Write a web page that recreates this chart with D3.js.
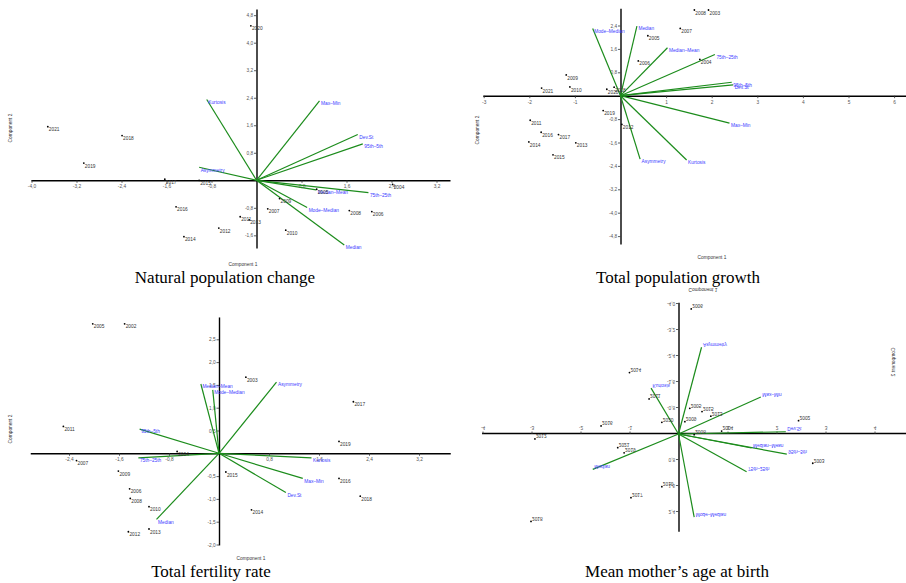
<!DOCTYPE html>
<html>
<head>
<meta charset="utf-8">
<script src="https://cdn.jsdelivr.net/npm/d3@7"></script>
<style>
body { margin: 0; background: #fff; }
</style>
</head>
<body>
<div id="chart"></div>
<script>

// ---- Natural population change ----
var natYears = ["2020","2021","2018","2019","2017","2015","2016","2014","2012","2011","2013","2007","2009","2010","2005","2008","2006","2004"];
var natPC1 = [-0.10,-3.71,-2.39,-3.07,-1.63,-1.02,-1.43,-1.29,-0.67,-0.29,-0.13,0.20,0.41,0.52,1.07,1.65,2.05,2.42];
var natPC2 = [4.49,1.56,1.30,0.50,0.03,0.00,-0.77,-1.64,-1.39,-1.06,-1.15,-0.83,-0.53,-1.45,-0.26,-0.88,-0.91,-0.12];
var natVars = ["Kurtosis","Asymmetry","Max–Min","Dev.St","95th–5th","75th–25th","Median–Mean","Mode–Median","Median"];
var natLoad1 = [-0.885,-1.02,1.12,1.80,1.89,1.99,1.06,0.90,1.56];
var natLoad2 = [2.35,0.38,2.31,1.33,1.06,-0.36,-0.28,-0.79,-1.88];

// ---- Total population growth ----
var tpgYears = ["2009","2021","2010","2020","2018","2019","2012","2011","2016","2017","2014","2013","2015","2005","2006","2007","2008","2003","2004"];
var tpgPC1 = [-1.19,-1.73,-1.11,-0.30,-0.14,-0.38,0.03,-1.98,-1.74,-1.36,-2.01,-0.98,-1.48,0.60,0.39,1.31,1.62,1.93,1.74];
var tpgPC2 = [0.71,0.26,0.30,0.22,0.29,-0.51,-0.98,-0.84,-1.25,-1.33,-1.58,-1.61,-2.02,2.05,1.19,2.30,2.93,2.93,1.24];
var tpgVars = ["Mode–Median","Median","Median–Mean","75th–25th","95th–5th","Dev.St","Max–Min","Kurtosis","Asymmetry"];
var tpgLoad1 = [-0.61,0.36,1.03,2.07,2.44,2.47,2.39,1.45,0.43];
var tpgLoad2 = [2.30,2.38,1.64,1.41,0.46,0.37,-0.94,-2.20,-2.17];

// ---- Total fertility rate ----
var tfrYears = ["2005","2002","2011","2007","2009","2006","2008","2010","2013","2012","2004","2015","2003","2017","2019","2016","2018","2014"];
var tfrPC1 = [-2.02,-1.51,-2.49,-2.28,-1.61,-1.43,-1.42,-1.12,-1.12,-1.45,-0.67,0.11,0.43,2.15,1.92,1.92,2.26,0.52];
var tfrPC2 = [2.84,2.84,0.59,-0.16,-0.39,-0.78,-0.99,-1.17,-1.66,-1.72,0.04,-0.41,1.67,1.13,0.26,-0.55,-0.94,-1.24];
var tfrVars = ["Median–Mean","Mode–Median","95th–5th","75th–25th","Median","Asymmetry","Kurtosis","Max–Min","Dev.St"];
var tfrLoad1 = [-0.29,-0.10,-1.27,-1.29,-1.00,0.92,1.48,1.34,1.07];
var tfrLoad2 = [1.52,1.39,0.53,-0.10,-1.45,1.56,-0.10,-0.55,-0.86];

// ---- Mean mother's age at birth (panel is printed upside down) ----
var mabYears = ["2006","2014","2011","2020","2016","2012","2021","2019","2010","2017","2018","2005","2015","2013","2009","2008","2004","2002","2003"];
var mabPC1 = [0.26,-1.00,-0.60,-0.34,-1.58,-2.93,-1.24,-1.11,-0.34,-0.97,-3.01,0.23,0.48,0.66,0.13,0.32,0.88,2.45,2.74];
var mabPC2 = [-3.85,-1.89,-1.08,-0.36,-0.25,0.15,0.42,0.58,1.62,1.96,2.69,-0.79,-0.69,-0.55,-0.38,0.02,-0.09,-0.41,0.90];
var mabVars = ["Asymmetry","Kurtosis","Median","Max–Min","Dev.St","Median–Mean","95th–5th","75th–25th","Mode–Median"];
var mabLoad1 = [0.47,-0.56,-1.75,1.68,2.19,1.49,2.21,1.39,0.32];
var mabLoad2 = [-2.67,-1.41,1.09,-1.14,-0.07,0.43,0.62,1.16,2.56];

var loc = d3.formatLocale({decimal: ",", thousands: ".", grouping: [3], currency: ["", ""], minus: "-"});
var f1 = loc.format(".1f"), f0 = loc.format("d");

var small = "'Liberation Sans', Arial, sans-serif";
var serif = "'Liberation Serif', 'Times New Roman', serif";

var svg = d3.select("#chart").append("svg")
    .attr("width", 906)
    .attr("height", 583)
    .style("background", "#fff");

function drawPanel(cfg) {
    var g = svg.append("g");
    if (cfg.flip) g.attr("transform", "translate(0," + (2 * cfg.y0) + ") scale(1,-1)");

    var x = d3.scaleLinear().domain(cfg.xdom)
        .range(cfg.xdom.map(function(v) { return cfg.x0 + v * cfg.kx; }));
    var y = d3.scaleLinear().domain(cfg.ydom)
        .range(cfg.ydom.map(function(v) { return cfg.y0 - v * cfg.ky; }));

    var gx = g.append("g")
        .attr("transform", "translate(0," + y(0) + ")")
        .call(d3.axisBottom(x).tickValues(cfg.xticks).tickFormat(cfg.xfmt)
            .tickSize(2.5).tickSizeOuter(0).tickPadding(2));
    var gy = g.append("g")
        .attr("transform", "translate(" + x(0) + ",0)")
        .call(d3.axisLeft(y).tickValues(cfg.yticks).tickFormat(cfg.yfmt)
            .tickSize(2.5).tickSizeOuter(0).tickPadding(0.8));

    [gx, gy].forEach(function(a) {
        a.attr("font-size", 4.8).attr("font-family", small);
        a.select(".domain").attr("stroke", "#000").attr("stroke-width", 1.4);
        a.selectAll(".tick line").attr("stroke", "#333").attr("stroke-width", 0.8);
        a.selectAll(".tick text").attr("fill", "#555");
    });

    // loading vectors
    var vecs = d3.zip(cfg.vars, cfg.load1, cfg.load2);
    g.selectAll(null).data(vecs).enter().append("line")
        .attr("x1", x(0)).attr("y1", y(0))
        .attr("x2", function(d) { return x(d[1]); })
        .attr("y2", function(d) { return y(d[2]); })
        .attr("stroke", "#1c8c1c")
        .attr("stroke-width", 1.2);
    g.selectAll(null).data(vecs).enter().append("text")
        .attr("x", function(d) { return x(d[1]) + 1.5; })
        .attr("y", function(d) { return y(d[2]) + 4.3; })
        .attr("font-size", 4.8)
        .attr("font-family", small)
        .attr("fill", "#3b3bff")
        .text(function(d) { return d[0]; });

    // scores
    var pts = d3.zip(cfg.years, cfg.pc1, cfg.pc2);
    g.selectAll(null).data(pts).enter().append("circle")
        .attr("cx", function(d) { return x(d[1]); })
        .attr("cy", function(d) { return y(d[2]); })
        .attr("r", 0.9)
        .attr("fill", "#000");
    g.selectAll(null).data(pts).enter().append("text")
        .attr("x", function(d) { return x(d[1]) + 1; })
        .attr("y", function(d) { return y(d[2]) + 4.6; })
        .attr("font-size", 4.8)
        .attr("font-family", small)
        .attr("fill", "#333")
        .text(function(d) { return d[0]; });

    // axis names
    g.append("text")
        .attr("x", cfg.c1[0]).attr("y", cfg.c1[1])
        .attr("text-anchor", "middle")
        .attr("font-size", 4.8).attr("font-family", small).attr("fill", "#333")
        .text("Component 1");
    g.append("text")
        .attr("transform", "translate(" + cfg.c2[0] + "," + cfg.c2[1] + ") rotate(-90)")
        .attr("text-anchor", "middle")
        .attr("font-size", 4.8).attr("font-family", small).attr("fill", "#333")
        .text("Component 2");

    svg.append("text")
        .attr("x", cfg.tx).attr("y", cfg.ty)
        .attr("text-anchor", "middle")
        .attr("font-size", 17).attr("font-family", serif).attr("fill", "#000")
        .text(cfg.title);
}

drawPanel({
    title: "Natural population change", tx: 225, ty: 283,
    x0: 256.5, y0: 180.3, kx: 56.25, ky: 34.4,
    xdom: [-4.01, 3.44], ydom: [-1.97, 4.98],
    xticks: [-4.0, -3.2, -2.4, -1.6, -0.8, 0.8, 1.6, 2.4, 3.2], xfmt: f1,
    yticks: [-1.6, -0.8, 0.8, 1.6, 2.4, 3.2, 4.0, 4.8], yfmt: f1,
    c1: [243, 265.5], c2: [11.7, 128],
    years: natYears, pc1: natPC1, pc2: natPC2,
    vars: natVars, load1: natLoad1, load2: natLoad2
});

drawPanel({
    title: "Total population growth", tx: 678, ty: 283,
    x0: 620.5, y0: 95.7, kx: 45.6, ky: 29.25,
    xdom: [-3.02, 6.25], ydom: [-5.07, 2.99],
    xticks: [-3, -2, -1, 1, 2, 3, 4, 5, 6], xfmt: f0,
    yticks: [-4.8, -4.0, -3.2, -2.4, -1.6, -0.8, 0.8, 1.6, 2.4], yfmt: f1,
    c1: [712, 258.5], c2: [478.7, 130],
    years: tpgYears, pc1: tpgPC1, pc2: tpgPC2,
    vars: tpgVars, load1: tpgLoad1, load2: tpgLoad2
});

drawPanel({
    title: "Total fertility rate", tx: 211, ty: 577,
    x0: 219, y0: 453.3, kx: 62.5, ky: 45.6,
    xdom: [-3.02, 3.7], ydom: [-2.01, 2.99],
    xticks: [-2.4, -1.6, -0.8, 0.8, 1.6, 2.4, 3.2], xfmt: f1,
    yticks: [-2.0, -1.5, -1.0, -0.5, 0.5, 1.0, 1.5, 2.0, 2.5], yfmt: f1,
    c1: [251, 560], c2: [11.7, 429],
    years: tfrYears, pc1: tfrPC1, pc2: tfrPC2,
    vars: tfrVars, load1: tfrLoad1, load2: tfrLoad2
});

drawPanel({
    title: "Mean mother’s age at birth", tx: 677, ty: 577,
    flip: true,
    x0: 678.5, y0: 434, kx: 49, ky: 32.5,
    xdom: [-4.02, 4.64], ydom: [-4.02, 3.02],
    xticks: [-4, -3, -2, -1, 1, 2, 3, 4], xfmt: f0,
    yticks: [-4.0, -3.2, -2.4, -1.6, -0.8, 0.8, 1.6, 2.4], yfmt: f1,
    c1: [703, 579.7], c2: [894.7, 506],
    years: mabYears, pc1: mabPC1, pc2: mabPC2,
    vars: mabVars, load1: mabLoad1, load2: mabLoad2
});

</script>
</body>
</html>
